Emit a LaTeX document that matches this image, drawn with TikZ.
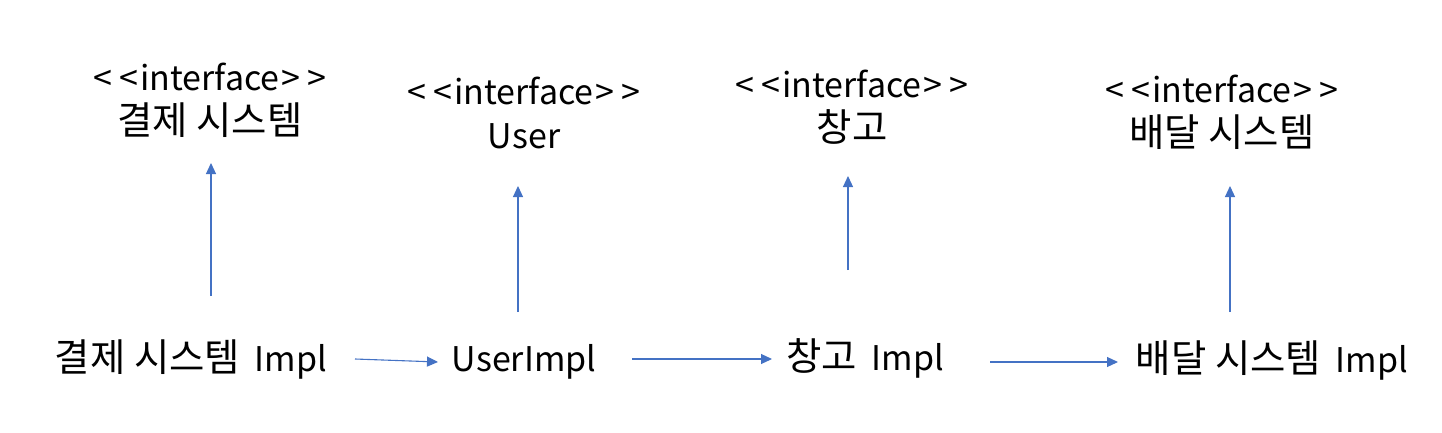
\documentclass[tikz,border=0pt]{standalone}
\usepackage{fontspec}
\setmainfont{Noto Sans CJK KR}
\newfontfamily\krfont[Scale=1.13]{Noto Sans CJK KR}
\newcommand{\kr}[1]{{\krfont #1}}
\newcommand{\iface}{{<}\kern7pt{<}\kern2pt interface\kern2pt{>}\kern7pt{>}}
\newcommand{\gap}{\ \kern7pt}
\usetikzlibrary{arrows.meta}
\definecolor{arrowblue}{HTML}{4472C4}
\tikzset{
  lbl/.style={inner sep=0pt, font=\fontsize{34}{44}\selectfont, align=center},
  conn/.style={draw=arrowblue, line width=1.1pt, -{Triangle[length=11pt,width=10pt]}}
}
\begin{document}
\begin{tikzpicture}[x=1pt,y=-1pt]
\useasboundingbox (0,0) rectangle (1442,433);
% interfaces
\node[lbl] (if1) at (210,100) {\iface\\\kr{결제 시스템}};
\node[lbl] (if2) at (524,113) {\iface\\User};
\node[lbl] (if3) at (852,107) {\iface\\\kr{창고}};
\node[lbl] (if4) at (1222,112) {\iface\\\kr{배달 시스템}};
% implementations
\node[lbl] (im1) at (191,360) {\kr{결제 시스템}\gap Impl};
\node[lbl] (im2) at (524,362) {UserImpl};
\node[lbl] (im3) at (865,358) {\kr{창고}\gap Impl};
\node[lbl] (im4) at (1272,361) {\kr{배달 시스템}\gap Impl};
% connector ends
\coordinate (v1s) at (211,296); \coordinate (v1e) at (211,163);
\coordinate (v2s) at (518,312); \coordinate (v2e) at (518,186);
\coordinate (v3s) at (848,270); \coordinate (v3e) at (848,176);
\coordinate (v4s) at (1230,312); \coordinate (v4e) at (1230,186);
\coordinate (h1s) at (355,359); \coordinate (h1e) at (438,362);
\coordinate (h2s) at (632,359); \coordinate (h2e) at (772,359);
\coordinate (h3s) at (990,362); \coordinate (h3e) at (1118,362);
\draw[conn] (v1s) -- (v1e);
\draw[conn] (v2s) -- (v2e);
\draw[conn] (v3s) -- (v3e);
\draw[conn] (v4s) -- (v4e);
\draw[conn] (h1s) -- (h1e);
\draw[conn] (h2s) -- (h2e);
\draw[conn] (h3s) -- (h3e);
\end{tikzpicture}
\end{document}
